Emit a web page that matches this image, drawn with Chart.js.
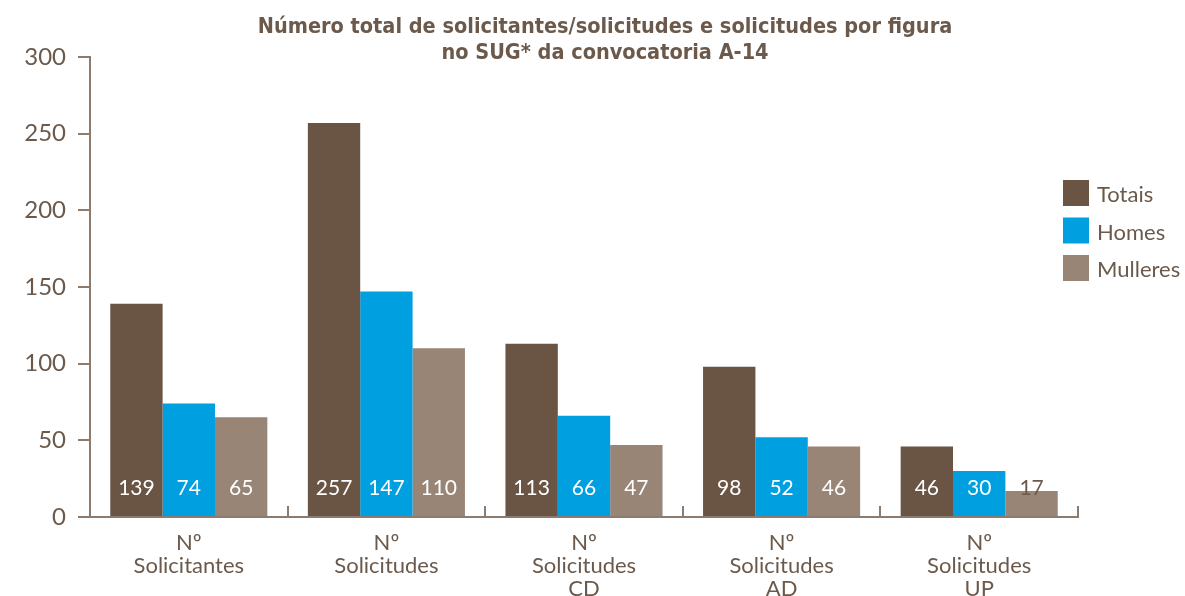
<!DOCTYPE html>
<html>
<head>
<meta charset="utf-8">
<script src="https://cdn.jsdelivr.net/npm/chart.js@4"></script>
<style>
  html, body { margin: 0; padding: 0; background: #fff; }
  #wrap { width: 1185px; height: 596px; }
</style>
</head>
<body>
<div id="wrap"><canvas id="chart" width="1185" height="596"></canvas></div>
<script>
const categories = [
  ["Nº", "Solicitantes"],
  ["Nº", "Solicitudes"],
  ["Nº", "Solicitudes", "CD"],
  ["Nº", "Solicitudes", "AD"],
  ["Nº", "Solicitudes", "UP"],
];
const totais = [139, 257, 113, 98, 46];
const homes = [74, 147, 66, 52, 30];
const mulleres = [65, 110, 47, 46, 17];
const yTicks = [0, 50, 100, 150, 200, 250, 300];
const titleLines = [
  "Número total de solicitantes/solicitudes e solicitudes por figura",
  "no SUG* da convocatoria A-14",
];

const textColor = "#6b5a4c";
const axisColor = "#8c7c70";
const bodyFont = "Lato";

// value labels sit near the bottom of each bar
const valueLabels = {
  id: "valueLabels",
  afterDatasetsDraw(chart) {
    const ctx = chart.ctx;
    const base = chart.scales.y.getPixelForValue(0);
    const labelY = base - 29;
    ctx.save();
    ctx.font = "21px " + bodyFont;
    ctx.textAlign = "center";
    ctx.textBaseline = "middle";
    chart.data.datasets.forEach((ds, i) => {
      chart.getDatasetMeta(i).data.forEach((bar, j) => {
        ctx.fillStyle = bar.y > labelY - 10 ? textColor : "#ffffff";
        ctx.fillText(String(ds.data[j]), bar.x, labelY);
      });
    });
    ctx.restore();
  },
};

// title, small upward ticks between the groups, legend on the right
const extras = {
  id: "extras",
  afterDraw(chart) {
    const ctx = chart.ctx;
    const x = chart.scales.x;
    const base = chart.scales.y.getPixelForValue(0);
    const step = x.getPixelForValue(1) - x.getPixelForValue(0);
    ctx.save();
    ctx.fillStyle = textColor;
    ctx.font = "bold 21.5px 'DejaVu Sans Condensed'";
    ctx.textAlign = "center";
    ctx.textBaseline = "middle";
    ctx.fillText(titleLines[0], 605, 27);
    ctx.fillText(titleLines[1], 605, 53);

    ctx.strokeStyle = axisColor;
    ctx.lineWidth = 2;
    for (let i = 0; i < categories.length; i++) {
      const px = Math.round(x.getPixelForValue(i) + step / 2);
      ctx.beginPath();
      ctx.moveTo(px, base);
      ctx.lineTo(px, base - 11);
      ctx.stroke();
    }
    ctx.font = "22px " + bodyFont;
    ctx.textAlign = "left";
    chart.data.datasets.forEach((ds, i) => {
      const top = 180 + i * 37.5;
      ctx.fillStyle = ds.backgroundColor;
      ctx.fillRect(1063, top, 26, 26);
      ctx.fillStyle = textColor;
      ctx.fillText(ds.label, 1097, top + 15);
    });
    ctx.restore();
  },
};

new Chart(document.getElementById("chart"), {
  type: "bar",
  data: {
    labels: categories,
    datasets: [
      { label: "Totais", data: totais, backgroundColor: "#6a5545" },
      { label: "Homes", data: homes, backgroundColor: "#009fe0" },
      { label: "Mulleres", data: mulleres, backgroundColor: "#998576" },
    ],
  },
  options: {
    responsive: false,
    animation: false,
    layout: { padding: { left: 0, right: 107, top: 57, bottom: 0 } },
    datasets: {
      bar: { categoryPercentage: 0.795, barPercentage: 1.0 },
    },
    plugins: {
      legend: { display: false },
      tooltip: { enabled: false },
      title: { display: false },
    },
    scales: {
      x: {
        offset: true,
        grid: { display: false },
        border: { color: axisColor, width: 2 },
        ticks: {
          color: textColor,
          font: { family: bodyFont, size: 22, lineHeight: 1.05 },
          padding: 6,
          maxRotation: 0,
          autoSkip: false,
        },
        afterFit(scale) { scale.height = 79; },
      },
      y: {
        min: 0,
        max: 300,
        afterBuildTicks(scale) { scale.ticks = yTicks.map((v) => ({ value: v })); },
        grid: { drawOnChartArea: false, drawTicks: true, tickLength: 12, color: axisColor, lineWidth: 2 },
        border: { color: axisColor, width: 2 },
        ticks: {
          color: textColor,
          font: { family: bodyFont, size: 24 },
          padding: 12,
        },
        afterFit(scale) { scale.width = 90; },
      },
    },
  },
  plugins: [valueLabels, extras],
});
</script>
</body>
</html>
